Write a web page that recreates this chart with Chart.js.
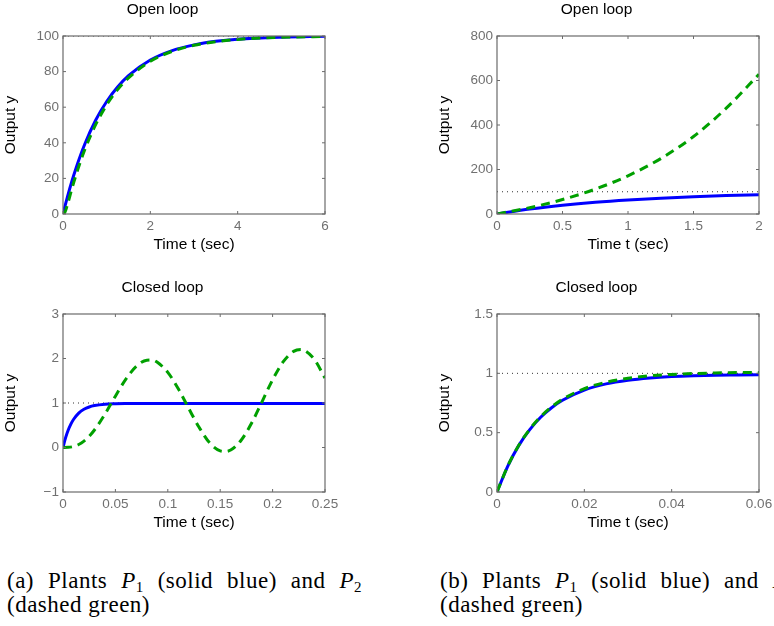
<!DOCTYPE html>
<html><head><meta charset="utf-8">
<script src="https://cdn.jsdelivr.net/npm/chart.js@4.4.1/dist/chart.umd.min.js"></script>
<style>
html,body{margin:0;padding:0;background:#fff;}
#wrap{position:relative;width:774px;height:626px;overflow:hidden;background:#fff;}
.panel{position:absolute;width:376px;height:256px;}
.cap{position:absolute;font-family:"Liberation Serif","Times New Roman",serif;font-size:23px;letter-spacing:0.5px;color:#000;line-height:24px;}
.l1{width:355px;text-align:justify;text-align-last:justify;}
.cap i{font-style:italic;}
.cap sub{font-size:15px;vertical-align:-4px;line-height:0;}
</style>
</head><body>
<div id="wrap">
  <canvas id="c1" class="panel" width="376" height="256" style="left:0;top:0"></canvas>
  <canvas id="c2" class="panel" width="376" height="256" style="left:434px;top:0"></canvas>
  <canvas id="c3" class="panel" width="376" height="256" style="left:0;top:278px"></canvas>
  <canvas id="c4" class="panel" width="376" height="256" style="left:434px;top:278px"></canvas>
  <div class="cap" style="left:7px;top:569px;">
    <div class="l1">(a) Plants <i>P</i><sub>1</sub> (solid blue) and <i>P</i><sub>2</sub></div>
    <div>(dashed green)</div>
  </div>
  <div class="cap" style="left:440px;top:569px;">
    <div class="l1">(b) Plants <i>P</i><sub>1</sub> (solid blue) and <i>P</i><sub>2</sub></div>
    <div>(dashed green)</div>
  </div>
</div>
<script>
// ---------- Panel 1: (a) open loop ----------
const p1Time  = [0, 0.05, 0.1, 0.2, 0.3, 0.5, 0.75, 1, 1.25, 1.5, 2, 2.5, 3, 3.5, 4, 5, 6];
const p1Blue  = [0, 4.9, 9.5, 18.1, 25.9, 39.3, 52.8, 63.2, 71.3, 77.7, 86.5, 91.8, 95.0, 97.0, 98.2, 99.3, 99.8];
const p1Green = [0, 1.3, 5.1, 13.9, 22.1, 36.2, 50.3, 61.3, 69.9, 76.5, 85.8, 91.4, 94.8, 96.8, 98.1, 99.3, 99.7];
const p1Ref   = [100, 100];
const p1XTicks = [0, 2, 4, 6];
const p1XLabels = ['0', '2', '4', '6'];
const p1YTicks = [0, 20, 40, 60, 80, 100];
const p1YLabels = ['0', '20', '40', '60', '80', '100'];

// ---------- Panel 2: (b) open loop ----------
const p2Time  = [0, 0.25, 0.5, 0.75, 1, 1.25, 1.5, 1.75, 2];
const p2Blue  = [0, 22.1, 39.3, 52.8, 63.2, 71.3, 77.7, 82.6, 86.5];
const p2Green = [0, 28.4, 64.9, 111.7, 171.8, 249.0, 348.2, 475.5, 628];
const p2Ref   = [100, 100];
const p2XTicks = [0, 0.5, 1, 1.5, 2];
const p2XLabels = ['0', '0.5', '1', '1.5', '2'];
const p2YTicks = [0, 200, 400, 600, 800];
const p2YLabels = ['0', '200', '400', '600', '800'];

// ---------- Panel 3: (a) closed loop ----------
const p3BlueTime = [0, 0.0025, 0.005, 0.0075, 0.01, 0.015, 0.02, 0.025, 0.03, 0.04, 0.05, 0.06, 0.08, 0.1, 0.15, 0.2, 0.25];
const p3Blue     = [0, 0.221, 0.393, 0.526, 0.630, 0.773, 0.859, 0.911, 0.942, 0.973, 0.984, 0.988, 0.990, 0.990, 0.990, 0.990, 0.990];
const p3GreenTime = [0, 0.005, 0.01, 0.015, 0.02, 0.025, 0.03, 0.04, 0.05, 0.06, 0.07, 0.08, 0.085, 0.09, 0.1, 0.11, 0.12, 0.13, 0.14, 0.15, 0.155, 0.16, 0.17, 0.18, 0.19, 0.2, 0.21, 0.22, 0.227, 0.23, 0.24, 0.25];
const p3Green     = [0, 0.003, 0.022, 0.067, 0.143, 0.253, 0.393, 0.749, 1.154, 1.537, 1.825, 1.961, 1.965, 1.914, 1.688, 1.320, 0.877, 0.448, 0.102, -0.077, -0.09, -0.058, 0.163, 0.549, 1.032, 1.521, 1.922, 2.160, 2.20, 2.185, 1.975, 1.56];
const p3Ref   = [1, 1];
const p3XTicks = [0, 0.05, 0.1, 0.15, 0.2, 0.25];
const p3XLabels = ['0', '0.05', '0.1', '0.15', '0.2', '0.25'];
const p3YTicks = [-1, 0, 1, 2, 3];
const p3YLabels = ['\u22121', '0', '1', '2', '3'];

// ---------- Panel 4: (b) closed loop ----------
const p4Time  = [0, 0.0025, 0.005, 0.0075, 0.01, 0.0125, 0.015, 0.02, 0.025, 0.03, 0.035, 0.04, 0.045, 0.05, 0.055, 0.06];
const p4Blue  = [0, 0.221, 0.393, 0.526, 0.630, 0.710, 0.773, 0.859, 0.911, 0.942, 0.961, 0.973, 0.980, 0.984, 0.986, 0.988];
const p4Green = [0, 0.222, 0.394, 0.529, 0.635, 0.717, 0.781, 0.871, 0.925, 0.958, 0.979, 0.991, 0.998, 1.003, 1.006, 1.007];
const p4Ref   = [1, 1];
const p4XTicks = [0, 0.02, 0.04, 0.06];
const p4XLabels = ['0', '0.02', '0.04', '0.06'];
const p4YTicks = [0, 0.5, 1, 1.5];
const p4YLabels = ['0', '0.5', '1', '1.5'];

const titles = ['Open loop', 'Open loop', 'Closed loop', 'Closed loop'];
const xTitle = 'Time t (sec)';
const yTitle = 'Output y';

const FONT = '"Liberation Sans", Arial, Helvetica, sans-serif';
const BLUE = '#0000ff';
const GREEN = '#00a000';
const AXIS = '#6b6b6b';
const TICKTXT = '#707070';

const pts = (xs, ys) => xs.map((x, i) => ({x: x, y: ys[i]}));

const boxPlugin = {
  id: 'box',
  afterDatasetsDraw(chart) {
    const {ctx, chartArea: a, scales: {x, y}} = chart;
    ctx.save();
    ctx.strokeStyle = AXIS;
    ctx.lineWidth = 1.2;
    ctx.strokeRect(a.left, a.top, a.right - a.left, a.bottom - a.top);
    ctx.lineWidth = 1;
    ctx.beginPath();
    x.ticks.forEach(t => {
      const px = x.getPixelForValue(t.value);
      ctx.moveTo(px, a.bottom); ctx.lineTo(px, a.bottom - 3);
      ctx.moveTo(px, a.top); ctx.lineTo(px, a.top + 3);
    });
    y.ticks.forEach(t => {
      const py = y.getPixelForValue(t.value);
      ctx.moveTo(a.left, py); ctx.lineTo(a.left + 3, py);
      ctx.moveTo(a.right, py); ctx.lineTo(a.right - 3, py);
    });
    ctx.stroke();
    ctx.restore();
  }
};

function makePanel(id, title, blueT, blueY, greenT, greenY, refY, xT, xL, yT, yL) {
  const xMin = xT[0], xMax = xT[xT.length - 1];
  new Chart(document.getElementById(id), {
    type: 'line',
    data: {
      datasets: [
        {data: pts(greenT, greenY), borderColor: GREEN, borderWidth: 3, borderDash: [9, 6], pointRadius: 0, cubicInterpolationMode: 'monotone', fill: false},
        {data: pts(blueT, blueY), borderColor: BLUE, borderWidth: 3, pointRadius: 0, cubicInterpolationMode: 'monotone', fill: false},
        {data: pts([xMin, xMax], refY), borderColor: '#333', borderWidth: 1, borderDash: [1, 4], pointRadius: 0, fill: false}
      ]
    },
    options: {
      responsive: false,
      animation: false,
      events: [],
      layout: {padding: {left: 0, right: 51, top: 0, bottom: 0}},
      plugins: {
        legend: {display: false},
        tooltip: {enabled: false},
        title: {display: true, text: title, color: '#000', fullSize: true,
          font: {family: FONT, size: 15.5, weight: 'normal', lineHeight: 1.2},
          padding: {top: 0, bottom: 17.4}}
      },
      scales: {
        x: {
          type: 'linear', min: xMin, max: xMax,
          afterBuildTicks: s => { s.ticks = xT.map(v => ({value: v})); },
          afterFit: s => { s.height = 42; },
          ticks: {callback: (v, i) => xL[i], color: TICKTXT, font: {family: FONT, size: 13.5}, padding: 4, maxRotation: 0, autoSkip: false},
          grid: {display: false, drawTicks: false}, border: {display: false},
          title: {display: true, text: xTitle, color: '#000', font: {family: FONT, size: 15.5, lineHeight: 1.2}, padding: {top: 0, bottom: 2}}
        },
        y: {
          type: 'linear', min: yT[0], max: yT[yT.length - 1],
          afterBuildTicks: s => { s.ticks = yT.map(v => ({value: v})); },
          afterFit: s => { s.width = 63; },
          ticks: {callback: (v, i) => yL[i], color: TICKTXT, font: {family: FONT, size: 13.5}, padding: 4, autoSkip: false},
          grid: {display: false, drawTicks: false}, border: {display: false},
          title: {display: true, text: yTitle, color: '#000', font: {family: FONT, size: 15.5, lineHeight: 1.2}, padding: {top: 1.7, bottom: 0}}
        }
      }
    },
    plugins: [boxPlugin]
  });
}

makePanel('c1', titles[0], p1Time, p1Blue, p1Time, p1Green, p1Ref, p1XTicks, p1XLabels, p1YTicks, p1YLabels);
makePanel('c2', titles[1], p2Time, p2Blue, p2Time, p2Green, p2Ref, p2XTicks, p2XLabels, p2YTicks, p2YLabels);
makePanel('c3', titles[2], p3BlueTime, p3Blue, p3GreenTime, p3Green, p3Ref, p3XTicks, p3XLabels, p3YTicks, p3YLabels);
makePanel('c4', titles[3], p4Time, p4Blue, p4Time, p4Green, p4Ref, p4XTicks, p4XLabels, p4YTicks, p4YLabels);
</script>
</body></html>
